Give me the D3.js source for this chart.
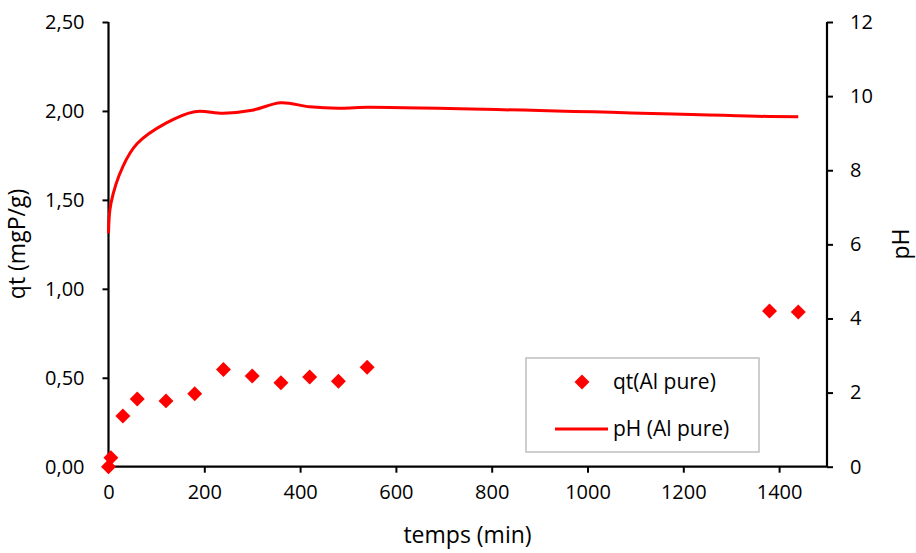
<!DOCTYPE html>
<html><head><meta charset="utf-8">
<script src="https://cdn.jsdelivr.net/npm/d3@7"></script>
<style>body{margin:0;background:#fff}svg{display:block}text{font-family:"Open Sans",sans-serif;fill:#000}</style>
</head><body>
<svg id="c" width="916" height="553"></svg>
<script>
const timeQt = [0, 5, 30, 60, 120, 180, 240, 300, 360, 420, 480, 540, 1380, 1440];
const qtValues = [0, 0.05, 0.285, 0.38, 0.37, 0.41, 0.547, 0.51, 0.472, 0.504, 0.48, 0.559, 0.875, 0.87];
const timePh = [0, 5, 30, 60, 120, 180, 240, 300, 360, 420, 480, 540, 1380, 1440];
const phValues = [6.3, 7.1, 8.1, 8.72, 9.27, 9.58, 9.54, 9.62, 9.82, 9.71, 9.67, 9.7, 9.45, 9.44];
const xTicks = [0, 200, 400, 600, 800, 1000, 1200, 1400];
const yLeftTicks = [0, 0.5, 1, 1.5, 2, 2.5];
const yRightTicks = [0, 2, 4, 6, 8, 10, 12];
const seriesNames = ["qt(Al pure)", "pH (Al pure)"];
const axisTitles = {x: "temps (min)", yl: "qt (mgP/g)", yr: "pH"};

const svg = d3.select("#c");
const L = 108.5, R = 827, T = 22, B = 466.7;
const x = d3.scaleLinear().domain([0, 1500]).range([L, R]);
const yl = d3.scaleLinear().domain([0, 2.5]).range([B, T]);
const yr = d3.scaleLinear().domain([0, 12]).range([B, T]);
const fs = 20, fsT = 23, fsL = 21;
const fmt = d3.format(".2f");

// axes
const gx = svg.append("g").attr("transform", `translate(0,${B})`)
  .call(d3.axisBottom(x).tickValues(xTicks).tickSize(6).tickPadding(8).tickSizeOuter(0).tickFormat(d3.format("d")));
const gyl = svg.append("g").attr("transform", `translate(${L},0)`)
  .call(d3.axisLeft(yl).tickValues(yLeftTicks).tickSize(6).tickPadding(18).tickSizeOuter(0)
    .tickFormat(d => fmt(d).replace(".", ",")));
const gyr = svg.append("g").attr("transform", `translate(${R},0)`)
  .call(d3.axisRight(yr).tickValues(yRightTicks).tickSize(6).tickPadding(17).tickSizeOuter(0));
[gx, gyl, gyr].forEach(g => {
  g.selectAll("path.domain").attr("stroke", "#000").attr("stroke-width", 2.2);
  g.selectAll(".tick line").attr("stroke", "#000").attr("stroke-width", 2);
  g.selectAll(".tick text").attr("font-size", fs).attr("font-family", "Open Sans").attr("fill", "#000");
});
gx.select("path.domain").attr("d", `M${L - 1},0H${R + 1}`);
gyl.select("path.domain").attr("d", `M0,${T}V${B}`);
gyr.select("path.domain").attr("d", `M0,${T}V${B}`);
gx.selectAll(".tick text").attr("dy", "0.9em");

// pH line
const line = d3.line().x(d => x(d[0])).y(d => yr(d[1])).curve(d3.curveCatmullRom.alpha(0.5));
svg.append("path").datum(d3.zip(timePh, phValues)).attr("d", line)
  .attr("fill", "none").attr("stroke", "#ff0000").attr("stroke-width", 3);

// qt markers
const diamond = d3.symbol().type(d3.symbolSquare).size(112);
svg.append("g").selectAll("path").data(d3.zip(timeQt, qtValues)).join("path")
  .attr("d", diamond)
  .attr("transform", d => `translate(${x(d[0])},${yl(d[1])}) rotate(45)`)
  .attr("fill", "#ff0000");

// axis titles
svg.append("text").attr("x", 467.5).attr("y", 543).attr("text-anchor", "middle")
  .attr("font-size", fsT).text(axisTitles.x);
svg.append("text").attr("transform", `translate(25,244) rotate(-90)`).attr("text-anchor", "middle")
  .attr("font-size", fsT).text(axisTitles.yl);
svg.append("text").attr("transform", `translate(909,244) rotate(-90)`).attr("text-anchor", "middle")
  .attr("font-size", fsT).text(axisTitles.yr);

// legend
const lg = svg.append("g");
lg.append("rect").attr("x", 526).attr("y", 358).attr("width", 233).attr("height", 94)
  .attr("fill", "#fff").attr("stroke", "#bfbfbf").attr("stroke-width", 1.5);
lg.append("path").attr("d", diamond).attr("transform", "translate(582,382) rotate(45)").attr("fill", "#ff0000");
lg.append("text").attr("x", 613).attr("y", 382).attr("dy", "0.35em").attr("font-size", fsL).text(seriesNames[0]);
lg.append("line").attr("x1", 555).attr("x2", 608).attr("y1", 429).attr("y2", 429)
  .attr("stroke", "#ff0000").attr("stroke-width", 3);
lg.append("text").attr("x", 613).attr("y", 429).attr("dy", "0.35em").attr("font-size", fsL).text(seriesNames[1]);
</script>
</body></html>
